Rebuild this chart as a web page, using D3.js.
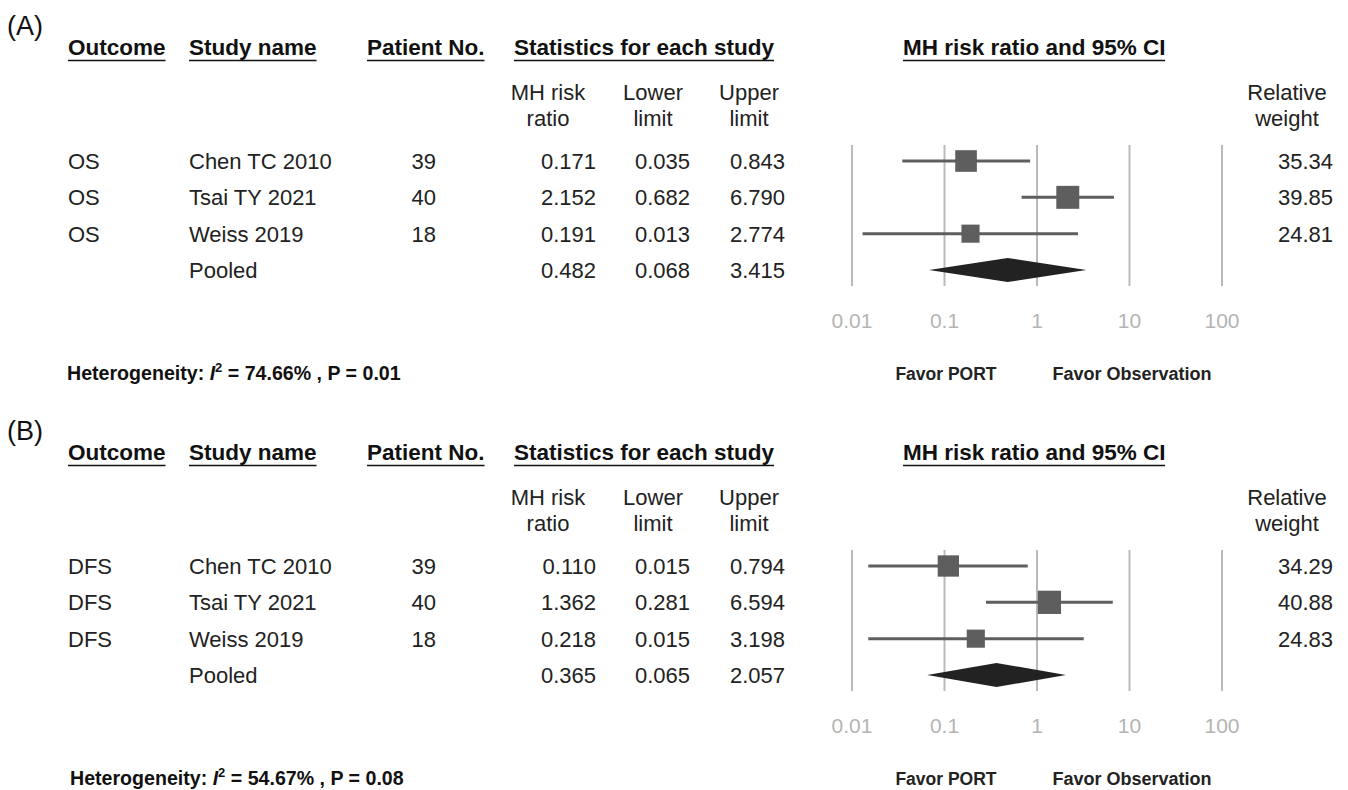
<!DOCTYPE html>
<html>
<head>
<meta charset="utf-8">
<script src="https://cdn.jsdelivr.net/npm/d3@7"></script>
<style>
  body { margin: 0; background: #fff; }
  text { font-family: "Liberation Sans", Arial, sans-serif; }
</style>
</head>
<body>
<div id="chart"></div>
<script>
// shared table content
const studies = ["Chen TC 2010", "Tsai TY 2021", "Weiss 2019"];
const patients = [39, 40, 18];
const axisTicks = [0.01, 0.1, 1, 10, 100];

// panel A: overall survival
const osOutcome = ["OS", "OS", "OS"];
const osRatio = [0.171, 2.152, 0.191];
const osLower = [0.035, 0.682, 0.013];
const osUpper = [0.843, 6.790, 2.774];
const osWeight = [35.34, 39.85, 24.81];
const osPooled = [0.482, 0.068, 3.415];
const osI2 = "74.66%", osP = "0.01";

// panel B: disease-free survival
const dfsOutcome = ["DFS", "DFS", "DFS"];
const dfsRatio = [0.110, 1.362, 0.218];
const dfsLower = [0.015, 0.281, 0.015];
const dfsUpper = [0.794, 6.594, 3.198];
const dfsWeight = [34.29, 40.88, 24.83];
const dfsPooled = [0.365, 0.065, 2.057];
const dfsI2 = "54.67%", dfsP = "0.08";

const W = 1348, H = 790;
const svg = d3.select("#chart").append("svg").attr("width", W).attr("height", H);

const x = d3.scaleLog().domain([0.01, 100]).range([852, 1222]);
const size = d3.scaleSqrt().domain([0, 40]).range([0, 23]);
const fmt = d3.format(".3f");

function panel(g, label, outcome, ratio, lower, upper, weight, pooled, i2, p, hetX) {
  const y = d3.scalePoint().domain([0, 1, 2, 3]).range([161, 270]);

  g.append("text").attr("x", 7).attr("y", 35).attr("font-size", 27).attr("fill", "#111").text(label);

  // underlined headers
  const heads = [
    { t: "Outcome", x: 68 },
    { t: "Study name", x: 189 },
    { t: "Patient No.", x: 367 },
    { t: "Statistics for each study", x: 514 },
    { t: "MH risk ratio and 95% CI", x: 903, ext: 262 }
  ];
  heads.forEach(h => {
    const t = g.append("text").attr("x", h.x).attr("y", 55)
      .attr("font-size", 22.5).attr("font-weight", "bold").attr("fill", "#111").text(h.t);
    const w = h.ext || t.node().getComputedTextLength();
    g.append("line").attr("x1", h.x).attr("x2", h.x + w)
      .attr("y1", 60.5).attr("y2", 60.5).attr("stroke", "#111").attr("stroke-width", 1.5);
  });

  // sub headers
  const subs = [
    { a: "MH risk", b: "ratio", x: 548 },
    { a: "Lower", b: "limit", x: 653 },
    { a: "Upper", b: "limit", x: 749 },
    { a: "Relative", b: "weight", x: 1287 }
  ];
  subs.forEach(s => {
    g.append("text").attr("x", s.x).attr("y", 100).attr("text-anchor", "middle")
      .attr("font-size", 22).attr("fill", "#222").text(s.a);
    g.append("text").attr("x", s.x).attr("y", 126).attr("text-anchor", "middle")
      .attr("font-size", 22).attr("fill", "#222").text(s.b);
  });

  // grid lines
  g.selectAll(".grid").data(axisTicks).join("line")
    .attr("x1", d => x(d)).attr("x2", d => x(d))
    .attr("y1", 145).attr("y2", 286)
    .attr("stroke", "#bababa").attr("stroke-width", 2);

  g.selectAll(".tick").data(axisTicks).join("text")
    .attr("x", d => x(d)).attr("y", 328).attr("text-anchor", "middle")
    .attr("font-size", 21).attr("fill", "#b4b4b4").text(d => d);

  // table rows
  const rows = studies.map((s, i) => i);
  const rowText = (vals, xx, anchor) => g.selectAll(null).data(vals).join("text")
    .attr("x", xx).attr("y", (d, i) => y(i)).attr("dy", "0.36em")
    .attr("text-anchor", anchor).attr("font-size", 22).attr("fill", "#222").text(d => d);

  rowText(outcome, 68, "start");
  rowText(studies.concat(["Pooled"]), 189, "start");
  rowText(patients, 436, "end");
  rowText(ratio.concat([pooled[0]]).map(fmt), 596, "end");
  rowText(lower.concat([pooled[1]]).map(fmt), 690, "end");
  rowText(upper.concat([pooled[2]]).map(fmt), 785, "end");
  rowText(weight.map(d => d.toFixed(2)), 1333, "end");

  // CI lines and squares
  g.selectAll(".ci").data(rows).join("line")
    .attr("x1", i => x(lower[i])).attr("x2", i => x(upper[i]))
    .attr("y1", i => y(i)).attr("y2", i => y(i))
    .attr("stroke", "#5e5e5e").attr("stroke-width", 3);
  g.selectAll(".sq").data(rows).join("rect")
    .attr("x", i => x(ratio[i]) - size(weight[i]) / 2)
    .attr("y", i => y(i) - size(weight[i]) / 2)
    .attr("width", i => size(weight[i])).attr("height", i => size(weight[i]))
    .attr("fill", "#5e5e5e");

  // pooled diamond
  const py = y(3);
  g.append("path")
    .attr("d", `M${x(pooled[1])},${py} L${x(pooled[0])},${py - 12} L${x(pooled[2])},${py} L${x(pooled[0])},${py + 12} Z`)
    .attr("fill", "#222");

  g.append("text").attr("x", 946).attr("y", 380).attr("text-anchor", "middle")
    .attr("font-family", "DejaVu Sans").attr("font-size", 17.5).attr("font-weight", "bold")
    .attr("fill", "#222").text("Favor PORT");
  g.append("text").attr("x", 1132).attr("y", 380).attr("text-anchor", "middle")
    .attr("font-family", "DejaVu Sans").attr("font-size", 18).attr("font-weight", "bold")
    .attr("fill", "#222").text("Favor Observation");

  const het = g.append("text").attr("x", hetX).attr("y", 380)
    .attr("font-family", "Lato, 'Open Sans', sans-serif").attr("font-size", 19.6).attr("font-weight", "bold")
    .attr("fill", "#111");
  het.append("tspan").text("Heterogeneity: ");
  het.append("tspan").attr("font-style", "italic").text("I");
  het.append("tspan").attr("font-size", 13).attr("dy", -8).text("2");
  het.append("tspan").attr("dy", 8).text(` = ${i2} , P = ${p}`);
}

panel(svg.append("g"), "(A)", osOutcome, osRatio, osLower, osUpper, osWeight, osPooled, osI2, osP, 67);
panel(svg.append("g").attr("transform", "translate(0,405)"), "(B)", dfsOutcome, dfsRatio, dfsLower, dfsUpper, dfsWeight, dfsPooled, dfsI2, dfsP, 70);
</script>
</body>
</html>
